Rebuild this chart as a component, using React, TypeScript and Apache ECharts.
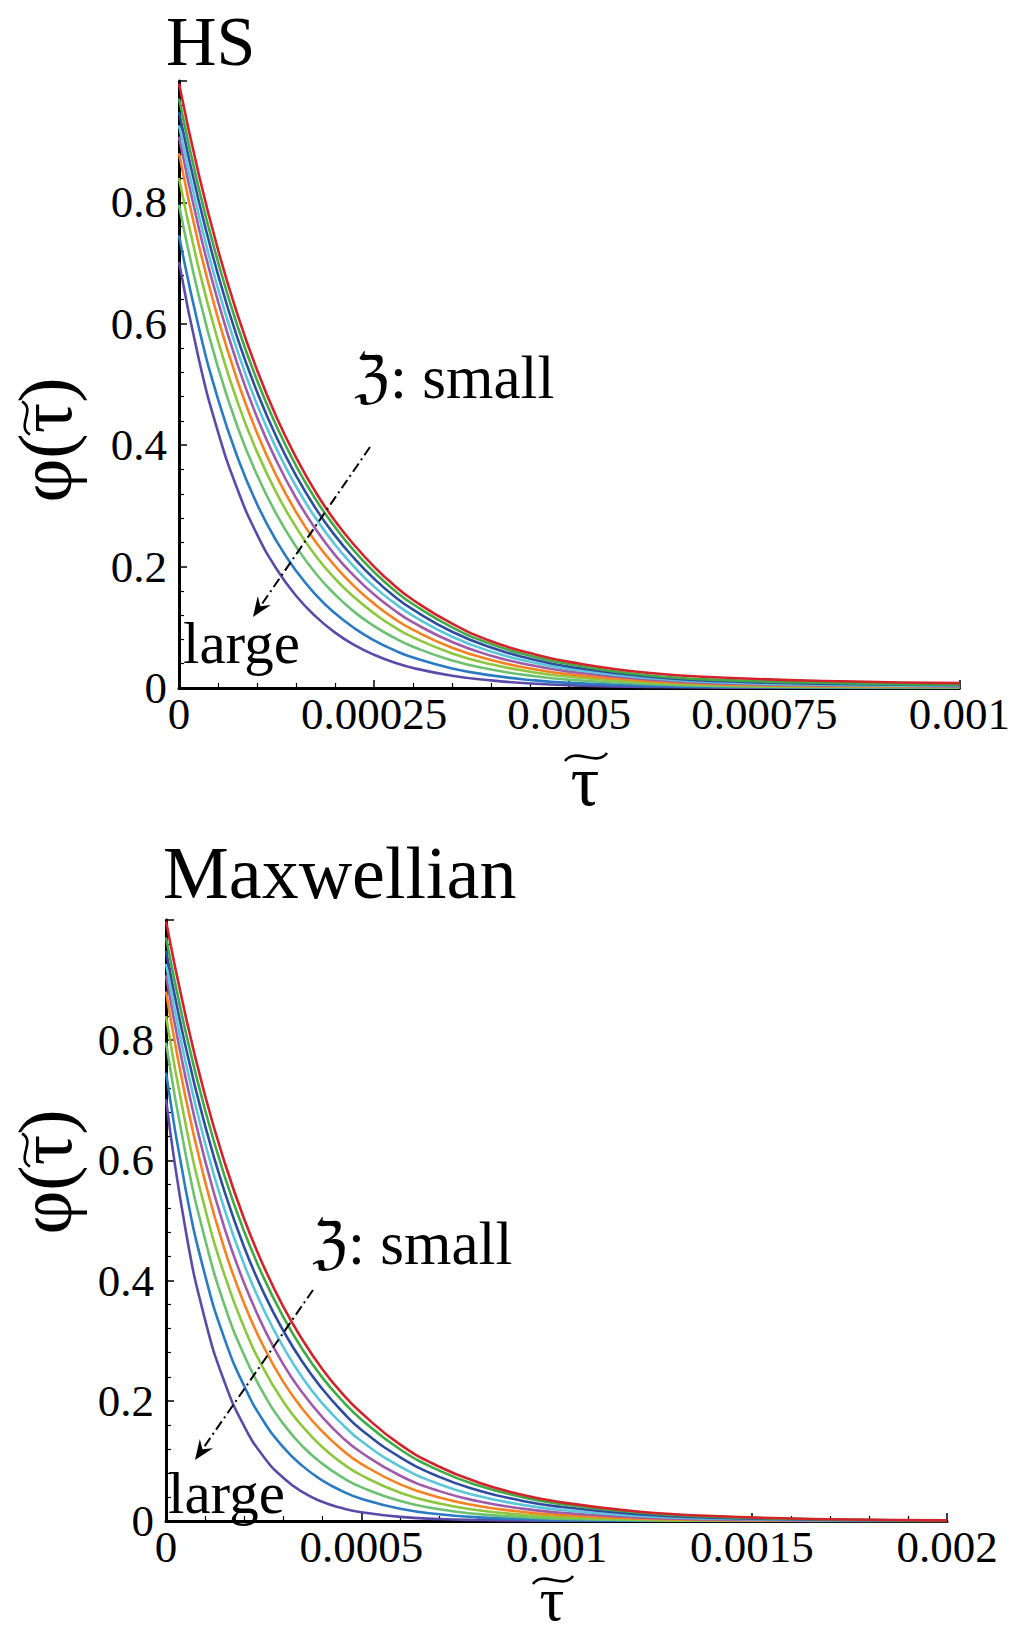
import React, { useEffect, useRef } from "react";
import * as echarts from "echarts";

// ---------- data ----------
const tauTop = [0, 0.000025, 0.00005, 0.000075, 0.0001, 0.000125, 0.00015, 0.000175, 0.0002, 0.000225, 0.00025, 0.000275, 0.0003, 0.00035, 0.0004, 0.00045, 0.0005, 0.0006, 0.0007, 0.00085, 0.001];
const tauBottom = [0, 0.00005, 0.0001, 0.00015, 0.0002, 0.00025, 0.0003, 0.00035, 0.0004, 0.00045, 0.0005, 0.0006, 0.0007, 0.0008, 0.0009, 0.001, 0.0012, 0.0014, 0.0017, 0.002];

const curveColors = ["#5B4BA8", "#2A7BC4", "#6CC072", "#8DC63F", "#F58220", "#A05BA8", "#5CC6D9", "#2F4DA0", "#3FAA48", "#D2232A"];

// HS panel curves (large -> small)
const hs1 = [0.702, 0.544, 0.422, 0.327, 0.253, 0.196, 0.152, 0.118, 0.0913, 0.0707, 0.0548, 0.0425, 0.0329, 0.0203, 0.0125, 0.0075, 0.0045, 0.0016, 0.0007, 0.0003, 0.0001];
const hs2 = [0.746, 0.596, 0.476, 0.380, 0.303, 0.242, 0.193, 0.154, 0.123, 0.0983, 0.0786, 0.0628, 0.0501, 0.0323, 0.0208, 0.0133, 0.0085, 0.0038, 0.0018, 0.0007, 0.0004];
const hs3 = [0.796, 0.648, 0.528, 0.430, 0.351, 0.286, 0.233, 0.189, 0.154, 0.125, 0.102, 0.0833, 0.068, 0.0455, 0.0305, 0.0204, 0.0137, 0.0065, 0.003, 0.0013, 0.0009];
const hs4 = [0.840, 0.693, 0.572, 0.471, 0.389, 0.321, 0.265, 0.218, 0.180, 0.149, 0.123, 0.101, 0.0834, 0.057, 0.039, 0.0269, 0.0185, 0.009, 0.0045, 0.002, 0.0014];
const hs5 = [0.881, 0.732, 0.609, 0.506, 0.420, 0.349, 0.290, 0.241, 0.201, 0.167, 0.139, 0.115, 0.0957, 0.0663, 0.046, 0.0322, 0.0225, 0.0115, 0.006, 0.003, 0.002];
const hs6 = [0.908, 0.760, 0.637, 0.533, 0.446, 0.374, 0.313, 0.262, 0.219, 0.184, 0.154, 0.129, 0.108, 0.0758, 0.0532, 0.0379, 0.027, 0.014, 0.0075, 0.004, 0.0027];
const hs7 = [0.927, 0.781, 0.658, 0.555, 0.467, 0.394, 0.332, 0.280, 0.236, 0.199, 0.167, 0.141, 0.119, 0.0845, 0.060, 0.0431, 0.031, 0.0165, 0.009, 0.005, 0.0035];
const hs8 = [0.949, 0.804, 0.681, 0.576, 0.488, 0.413, 0.350, 0.296, 0.251, 0.213, 0.180, 0.152, 0.129, 0.0927, 0.0666, 0.0483, 0.035, 0.019, 0.011, 0.0065, 0.0045];
const hs9 = [0.971, 0.825, 0.702, 0.596, 0.507, 0.431, 0.366, 0.311, 0.265, 0.225, 0.191, 0.162, 0.138, 0.0999, 0.0723, 0.0531, 0.039, 0.021, 0.013, 0.008, 0.0055];
const hs10 = [0.996, 0.848, 0.722, 0.615, 0.524, 0.446, 0.380, 0.323, 0.275, 0.235, 0.200, 0.170, 0.145, 0.106, 0.077, 0.0575, 0.043, 0.025, 0.017, 0.011, 0.008];

// Maxwellian panel curves (large -> small)
const mx1 = [0.702, 0.485, 0.335, 0.231, 0.158, 0.107, 0.072, 0.048, 0.032, 0.0215, 0.0145, 0.0068, 0.0033, 0.0016, 0.0008, 0.0004, 0.0001, 0, 0, 0];
const mx2 = [0.746, 0.553, 0.409, 0.303, 0.225, 0.166, 0.123, 0.0913, 0.0677, 0.0501, 0.0371, 0.0204, 0.0112, 0.0061, 0.0034, 0.0019, 0.0006, 0.0002, 0.0001, 0];
const mx3 = [0.796, 0.611, 0.469, 0.359, 0.276, 0.212, 0.162, 0.124, 0.0955, 0.0733, 0.0563, 0.0331, 0.0195, 0.0115, 0.0068, 0.0040, 0.0014, 0.0005, 0.0001, 0];
const mx4 = [0.840, 0.661, 0.520, 0.409, 0.322, 0.253, 0.199, 0.157, 0.123, 0.0968, 0.0762, 0.0471, 0.0291, 0.0180, 0.0111, 0.0069, 0.0026, 0.0010, 0.0002, 0.0001];
const mx5 = [0.881, 0.705, 0.565, 0.452, 0.362, 0.290, 0.232, 0.186, 0.149, 0.119, 0.0952, 0.0610, 0.0391, 0.0251, 0.0161, 0.0103, 0.0042, 0.0017, 0.0005, 0.0001];
const mx6 = [0.908, 0.738, 0.600, 0.487, 0.396, 0.322, 0.261, 0.213, 0.173, 0.140, 0.114, 0.0753, 0.0497, 0.0328, 0.0217, 0.0143, 0.0062, 0.0027, 0.0008, 0.0002];
const mx7 = [0.927, 0.764, 0.629, 0.518, 0.427, 0.352, 0.290, 0.238, 0.196, 0.162, 0.133, 0.0904, 0.0613, 0.0416, 0.0283, 0.0192, 0.0088, 0.0041, 0.0013, 0.0004];
const mx8 = [0.949, 0.790, 0.658, 0.548, 0.456, 0.380, 0.317, 0.264, 0.220, 0.183, 0.152, 0.106, 0.0734, 0.0508, 0.0352, 0.0244, 0.0117, 0.0056, 0.0019, 0.0006];
const mx9 = [0.971, 0.815, 0.684, 0.574, 0.482, 0.405, 0.340, 0.285, 0.239, 0.201, 0.169, 0.119, 0.0838, 0.0590, 0.0416, 0.0293, 0.0146, 0.0072, 0.0025, 0.0009];
const mx10 = [0.998, 0.841, 0.708, 0.597, 0.503, 0.424, 0.357, 0.301, 0.253, 0.213, 0.180, 0.127, 0.0903, 0.0642, 0.0455, 0.0323, 0.0163, 0.0082, 0.0029, 0.0010];

const hsCurves = [hs1, hs2, hs3, hs4, hs5, hs6, hs7, hs8, hs9, hs10];
const mxCurves = [mx1, mx2, mx3, mx4, mx5, mx6, mx7, mx8, mx9, mx10];

const xLabelsTop = ["0", "0.00025", "0.0005", "0.00075", "0.001"];
const xLabelsBottom = ["0", "0.0005", "0.001", "0.0015", "0.002"];
const yLabels = ["0", "0.2", "0.4", "0.6", "0.8", ""];

const panelTitles = ["HS", "Maxwellian"];

// ---------- styling ----------
const SERIF = "'Liberation Serif', 'Times New Roman', 'DejaVu Serif', serif";

function xAxisFor(gridIndex: number, max: number, interval: number, labels: string[]) {
  return {
    type: "value",
    gridIndex,
    min: 0,
    max,
    interval,
    axisLine: { show: true, onZero: false, lineStyle: { color: "#000", width: 3 } },
    axisTick: { show: true, inside: true, length: 8, lineStyle: { color: "#000", width: 1.5 } },
    minorTick: { show: true, splitNumber: 5, length: 5, lineStyle: { color: "#000", width: 1.2 } },
    splitLine: { show: false },
    minorSplitLine: { show: false },
    axisLabel: {
      color: "#000",
      fontFamily: SERIF,
      fontSize: 45,
      margin: 3,
      showMinLabel: true,
      showMaxLabel: true,
      hideOverlap: false,
      formatter: (v: number) => labels[Math.round(v / interval)] ?? "",
    },
  };
}

function yAxisFor(gridIndex: number) {
  const interval = 0.2;
  return {
    type: "value",
    gridIndex,
    min: 0,
    max: 1,
    interval,
    axisLine: { show: true, onZero: false, lineStyle: { color: "#000", width: 3 } },
    axisTick: { show: true, inside: true, length: 8, lineStyle: { color: "#000", width: 1.5 } },
    minorTick: { show: true, splitNumber: 5, length: 5, lineStyle: { color: "#000", width: 1.2 } },
    splitLine: { show: false },
    minorSplitLine: { show: false },
    axisLabel: {
      color: "#000",
      fontFamily: SERIF,
      fontSize: 45,
      margin: 12,
      formatter: (v: number) => yLabels[Math.round(v / interval)] ?? "",
    },
  };
}

function textEl(text: string, x: number, y: number, fontSize: number, align = "left", rotation = 0) {
  return {
    type: "text",
    x,
    y,
    rotation,
    z: 100,
    style: {
      text,
      fill: "#000",
      fontFamily: SERIF,
      fontSize,
      align,
      verticalAlign: "middle",
    },
  };
}

function tildeH(cx: number, cy: number, w: number, h: number) {
  return {
    type: "bezierCurve",
    z: 100,
    shape: {
      x1: cx - w / 2, y1: cy + h / 2,
      cpx1: cx - w / 4, cpy1: cy - h * 1.3,
      cpx2: cx + w / 4, cpy2: cy + h * 1.3,
      x2: cx + w / 2, y2: cy - h / 2,
    },
    style: { stroke: "#000", lineWidth: 2.6, fill: null },
  };
}

function tildeV(cx: number, cy: number, w: number, h: number) {
  // tilde rotated so that it reads bottom-to-top
  return {
    type: "bezierCurve",
    z: 100,
    shape: {
      x1: cx + h / 2, y1: cy + w / 2,
      cpx1: cx - h * 1.3, cpy1: cy + w / 4,
      cpx2: cx + h * 1.3, cpy2: cy - w / 4,
      x2: cx - h / 2, y2: cy - w / 2,
    },
    style: { stroke: "#000", lineWidth: 2.6, fill: null },
  };
}

function arrowEls(sx: number, sy: number, tx: number, ty: number) {
  const dx = tx - sx;
  const dy = ty - sy;
  const len = Math.sqrt(dx * dx + dy * dy);
  const ux = dx / len;
  const uy = dy / len;
  const nx = -uy;
  const ny = ux;
  const headLen = 20;
  const halfW = 8;
  const notch = 13;
  return [
    {
      type: "line",
      z: 100,
      shape: { x1: sx, y1: sy, x2: tx - notch * ux, y2: ty - notch * uy },
      style: { stroke: "#000", lineWidth: 2, lineDash: [10, 4, 2, 4] },
    },
    {
      type: "polygon",
      z: 100,
      shape: {
        points: [
          [tx, ty],
          [tx - headLen * ux + halfW * nx, ty - headLen * uy + halfW * ny],
          [tx - notch * ux, ty - notch * uy],
          [tx - headLen * ux - halfW * nx, ty - headLen * uy - halfW * ny],
        ],
      },
      style: { fill: "#000" },
    },
  ];
}

export default function App() {
  const ref = useRef<HTMLDivElement>(null);

  useEffect(() => {
    document.body.style.margin = "0";
    const chart = echarts.init(ref.current as HTMLDivElement, null, { renderer: "svg" });

    const series: any[] = [];
    hsCurves.forEach((vals, i) => {
      series.push({
        type: "line",
        name: "HS " + (i + 1),
        xAxisIndex: 0,
        yAxisIndex: 0,
        data: tauTop.map((t, k) => [t, vals[k]]),
        showSymbol: false,
        smooth: 0.5,
        lineStyle: { color: curveColors[i], width: 2.6 },
        itemStyle: { color: curveColors[i] },
        z: 2 + i,
      });
    });
    mxCurves.forEach((vals, i) => {
      series.push({
        type: "line",
        name: "Maxwellian " + (i + 1),
        xAxisIndex: 1,
        yAxisIndex: 1,
        data: tauBottom.map((t, k) => [t, vals[k]]),
        showSymbol: false,
        smooth: 0.5,
        lineStyle: { color: curveColors[i], width: 2.6 },
        itemStyle: { color: curveColors[i] },
        z: 2 + i,
      });
    });

    const graphics: any[] = [
      textEl(panelTitles[0], 166, 41, 70),
      textEl(panelTitles[1], 163, 873, 74),
      // y-axis names
      textEl("φ(τ)", 45, 440, 76, "center", Math.PI / 2),
      tildeV(26, 418, 33, 8),
      textEl("φ(τ)", 45, 1172, 76, "center", Math.PI / 2),
      tildeV(26, 1150, 33, 8),
      // x-axis names
      textEl("τ", 585, 781, 72, "center"),
      tildeH(586, 757, 42, 8),
      textEl("τ", 552, 1599, 62, "center"),
      tildeH(553, 1580, 40, 8),
      // annotations
      textEl("ℨ: small", 354, 377, 61),
      textEl("large", 183, 643, 59),
      textEl("ℨ: small", 312, 1243, 61),
      textEl("large", 168, 1493, 59),
      ...arrowEls(370, 447, 253, 617),
      ...arrowEls(313, 1290, 195, 1460),
    ];

    chart.setOption({
      animation: false,
      backgroundColor: "#fff",
      grid: [
        { left: 179, top: 81, width: 781, height: 607, containLabel: false },
        { left: 166, top: 920, width: 781, height: 601, containLabel: false },
      ],
      xAxis: [xAxisFor(0, 0.001, 0.00025, xLabelsTop), xAxisFor(1, 0.002, 0.0005, xLabelsBottom)],
      yAxis: [yAxisFor(0), yAxisFor(1)],
      series,
      graphic: graphics,
    });

    return () => chart.dispose();
  }, []);

  return <div ref={ref} style={{ width: 1013, height: 1634 }} />;
}
